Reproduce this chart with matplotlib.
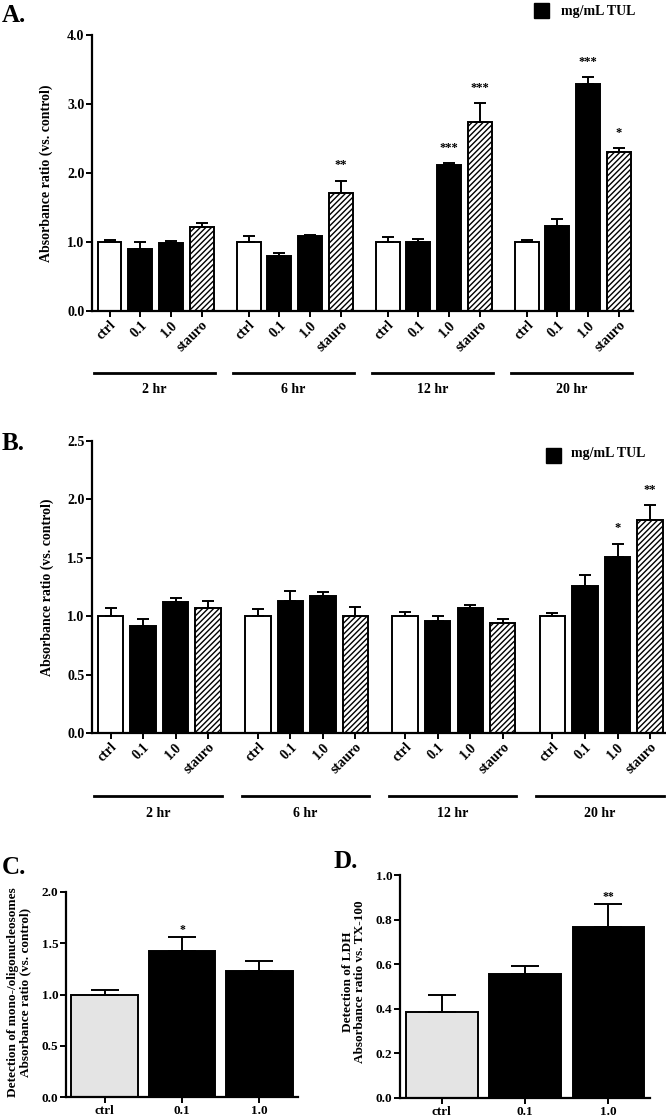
import matplotlib
matplotlib.use("Agg")
import matplotlib.pyplot as plt
from matplotlib.patches import Rectangle
import numpy as np

plt.rcParams['font.family'] = ['Liberation Serif', 'DejaVu Serif']
plt.rcParams['font.weight'] = 'bold'
plt.rcParams['hatch.linewidth'] = 1.0

# ---------------- data ----------------
groups = ['2 hr', '6 hr', '12 hr', '20 hr']
conditions = ['ctrl', '0.1', '1.0', 'stauro']

a_mean = [[1.00, 0.90, 0.98, 1.22],
          [1.00, 0.79, 1.08, 1.71],
          [1.00, 1.00, 2.12, 2.74],
          [1.00, 1.23, 3.29, 2.30]]
a_err = [[0.03, 0.10, 0.04, 0.05],
         [0.09, 0.05, 0.02, 0.18],
         [0.07, 0.04, 0.02, 0.27],
         [0.03, 0.11, 0.10, 0.06]]
a_stars = [['', '', '', ''],
           ['', '', '', '**'],
           ['', '', '***', '***'],
           ['', '', '***', '*']]

b_mean = [[1.00, 0.92, 1.12, 1.07],
          [1.00, 1.13, 1.17, 1.00],
          [1.00, 0.96, 1.07, 0.94],
          [1.00, 1.26, 1.51, 1.82]]
b_err = [[0.07, 0.06, 0.04, 0.06],
         [0.06, 0.09, 0.04, 0.08],
         [0.04, 0.04, 0.03, 0.04],
         [0.03, 0.09, 0.11, 0.13]]
b_stars = [['', '', '', ''],
           ['', '', '', ''],
           ['', '', '', ''],
           ['', '', '*', '**']]

cd_labels = ['ctrl', '0.1', '1.0']
c_mean = [1.00, 1.42, 1.23]
c_err = [0.04, 0.14, 0.10]
c_stars = ['', '*', '']

d_mean = [0.385, 0.555, 0.765]
d_err = [0.075, 0.035, 0.105]
d_stars = ['', '', '**']

legend_label = 'mg/mL TUL'

# ---------------- layout helpers ----------------
W, H = 666, 1117
fig = plt.figure(figsize=(W / 100, H / 100), dpi=100)


def px_axes(left, top, right, bottom):
    return fig.add_axes([left / W, 1 - bottom / H, (right - left) / W, (bottom - top) / H])


def style_axes(ax, fs=10):
    for s in ['top', 'right']:
        ax.spines[s].set_visible(False)
    for s in ['left', 'bottom']:
        ax.spines[s].set_linewidth(1.6)
    ax.tick_params(axis='both', direction='out', width=1.4, length=4, labelsize=fs, pad=1.5)
    for lab in ax.get_yticklabels() + ax.get_xticklabels():
        lab.set_fontweight('bold')


GSTEP = 4.53
BAR_W = 0.78


def grouped_panel(ax, means, errs, stars, ymax, ystep, fmt, star_off):
    xs, labels = [], []
    for g in range(len(groups)):
        for i, cond in enumerate(conditions):
            x = g * GSTEP + i
            m = means[g][i]
            e = errs[g][i]
            if cond == 'ctrl':
                fc, hatch = 'white', None
            elif cond == 'stauro':
                fc, hatch = 'white', '//////'
            else:
                fc, hatch = 'black', None
            ax.bar(x, m, width=BAR_W, color=fc, edgecolor='black', linewidth=1.4,
                   hatch=hatch, zorder=2)
            ax.errorbar(x, m, yerr=[[0], [e]], fmt='none', ecolor='black',
                        elinewidth=1.4, capsize=4.5, capthick=1.4, zorder=3)
            if stars[g][i]:
                ax.annotate(stars[g][i], (x, m + e), xytext=(0, star_off),
                            textcoords='offset points', ha='center', va='baseline',
                            fontsize=9, fontweight='bold')
            xs.append(x)
            labels.append(cond)
    ax.set_xticks(xs)
    ax.set_xticklabels(labels, rotation=45, ha='right', va='top', rotation_mode='anchor')
    ax.set_xlim(-0.57, 3 * GSTEP + 3 + 0.46)
    ax.set_ylim(0, ymax)
    ax.set_yticks(np.arange(0, ymax + 1e-9, ystep))
    ax.set_yticklabels([fmt % v for v in np.arange(0, ymax + 1e-9, ystep)])
    style_axes(ax)


def group_lines(ax, yline, ylab):
    tr = ax.get_xaxis_transform()
    for g, name in enumerate(groups):
        x0 = g * GSTEP - 0.5
        x1 = g * GSTEP + 3.42
        ax.plot([x0, x1], [yline, yline], color='black', lw=2.0, transform=tr, clip_on=False)
        ax.text((x0 + x1) / 2, ylab, name, transform=tr, ha='center', va='center',
                fontsize=10, fontweight='bold')


# ---------------- Panel A ----------------
axA = px_axes(92, 35, 633, 311)
grouped_panel(axA, a_mean, a_err, a_stars, 4.0, 1.0, '%.1f', 9)
group_lines(axA, -0.2246, -0.286)
fig.text(46 / W, 1 - 173 / H, 'Absorbance ratio (vs. control)', rotation=90,
         ha='center', va='center', fontsize=10, fontweight='bold')
fig.text(2 / W, 1 - 15 / H, 'A.', ha='left', va='center', fontsize=18, fontweight='bold')
fig.patches.append(Rectangle((534 / W, 1 - 18 / H), 15 / W, 15 / H, transform=fig.transFigure,
                             facecolor='black', edgecolor='black', figure=fig))
fig.text(561 / W, 1 - 11 / H, legend_label, ha='left', va='center', fontsize=10, fontweight='bold')

# ---------------- Panel B ----------------
axB = px_axes(92, 441, 665, 733)
grouped_panel(axB, b_mean, b_err, b_stars, 2.5, 0.5, '%.1f', 9)
group_lines(axB, -0.216, -0.274)
fig.text(47 / W, 1 - 587 / H, 'Absorbance ratio (vs. control)', rotation=90,
         ha='center', va='center', fontsize=10, fontweight='bold')
fig.text(2 / W, 1 - 443 / H, 'B.', ha='left', va='center', fontsize=18, fontweight='bold')
fig.patches.append(Rectangle((546 / W, 1 - 463 / H), 15 / W, 15 / H, transform=fig.transFigure,
                             facecolor='black', edgecolor='black', figure=fig))
fig.text(571 / W, 1 - 454 / H, legend_label, ha='left', va='center', fontsize=10, fontweight='bold')


# ---------------- Panels C & D ----------------
def simple_panel(ax, means, errs, stars, ymax, ystep, fmt):
    x = np.arange(len(cd_labels))
    colors = ['#e4e4e4', 'black', 'black']
    ax.bar(x, means, width=0.86, color=colors, edgecolor='black', linewidth=1.4, zorder=2)
    ax.errorbar(x, means, yerr=[np.zeros(len(x)), errs], fmt='none', ecolor='black',
                elinewidth=1.4, capsize=10, capthick=1.4, zorder=3)
    for xi, m, e, s in zip(x, means, errs, stars):
        if s:
            ax.annotate(s, (xi, m + e), xytext=(0, 3), textcoords='offset points',
                        ha='center', va='baseline', fontsize=8.5, fontweight='bold')
    ax.set_xticks(x)
    ax.set_xticklabels(cd_labels)
    ax.set_xlim(-0.5, len(x) - 0.5)
    ax.set_ylim(0, ymax)
    ticks = np.arange(0, ymax + 1e-9, ystep)
    ax.set_yticks(ticks)
    ax.set_yticklabels([fmt % v for v in ticks])
    ax.tick_params(axis='x', length=4)
    style_axes(ax, fs=9.5)


axC = px_axes(66, 892, 298, 1097)
simple_panel(axC, c_mean, c_err, c_stars, 2.0, 0.5, '%.1f')
fig.text(19 / W, 1 - 992 / H, 'Detection of mono-/oligonucleosomes\nAbsorbance ratio (vs. control)',
         rotation=90, ha='center', va='center', fontsize=9.5, fontweight='bold', linespacing=1.1)
fig.text(2 / W, 1 - 868 / H, 'C.', ha='left', va='center', fontsize=18, fontweight='bold')

axD = px_axes(400, 875, 650, 1098)
simple_panel(axD, d_mean, d_err, d_stars, 1.0, 0.2, '%.1f')
fig.text(354 / W, 1 - 982 / H, 'Detection of LDH\nAbsorbance ratio vs. TX-100',
         rotation=90, ha='center', va='center', fontsize=9.5, fontweight='bold', linespacing=1.1)
fig.text(333 / W, 1 - 862 / H, 'D.', ha='left', va='center', fontsize=18, fontweight='bold')

fig.savefig('out.png', dpi=100, facecolor='white')
